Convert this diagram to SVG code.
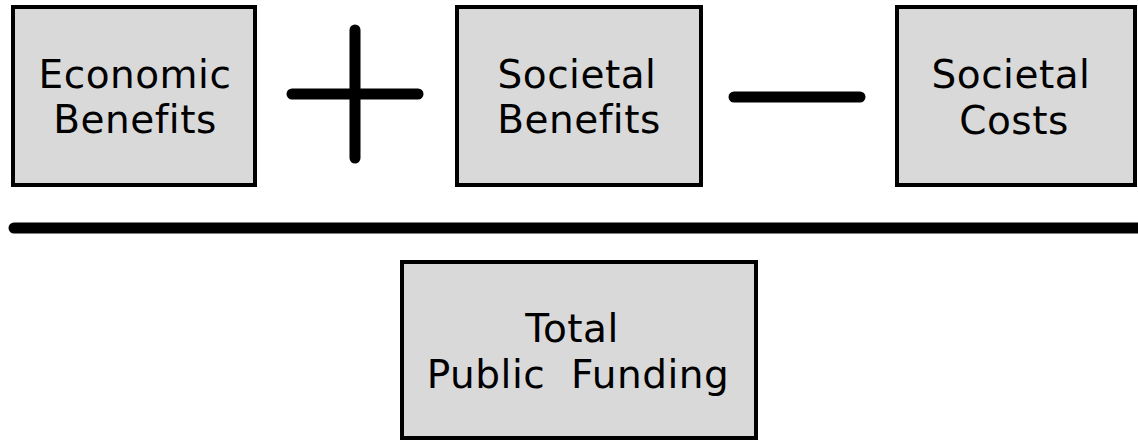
<svg xmlns="http://www.w3.org/2000/svg" width="1138" height="441" viewBox="0 0 1138 441">
<style>
.box{fill:#d9d9d9;stroke:#000;stroke-width:4}
.t{font-family:"DejaVu Sans",Verdana,sans-serif;font-size:39px;letter-spacing:0.5px;fill:#000;text-anchor:middle;white-space:pre}
.op{stroke:#000;stroke-width:11;stroke-linecap:round;fill:none}
</style>
<rect width="1138" height="441" fill="#fff"/>
<g id="economic-benefits">
<rect class="box" x="13" y="7" width="242" height="178"/>
<text class="t" x="135" y="88">Economic</text>
<text class="t" x="135" y="133">Benefits</text>
</g>
<g id="societal-benefits">
<rect class="box" x="457" y="7" width="244" height="178"/>
<text class="t" x="577" y="88">Societal</text>
<text class="t" x="579" y="133">Benefits</text>
</g>
<g id="societal-costs">
<rect class="box" x="897" y="7" width="238" height="178"/>
<text class="t" x="1011" y="88">Societal</text>
<text class="t" x="1014" y="134">Costs</text>
</g>
<g id="total-public-funding">
<rect class="box" x="402" y="262" width="354" height="176"/>
<text class="t" x="572" y="342">Total</text>
<text class="t" x="578" y="388" xml:space="preserve">Public  Funding</text>
</g>
<g id="connectors">
<line class="op" x1="292" y1="94" x2="418" y2="94"/>
<line class="op" x1="355" y1="30" x2="355" y2="158"/>
<line class="op" x1="734" y1="97" x2="860" y2="97"/>
<line class="op" x1="14" y1="228" x2="1145" y2="228"/>
</g>
</svg>
